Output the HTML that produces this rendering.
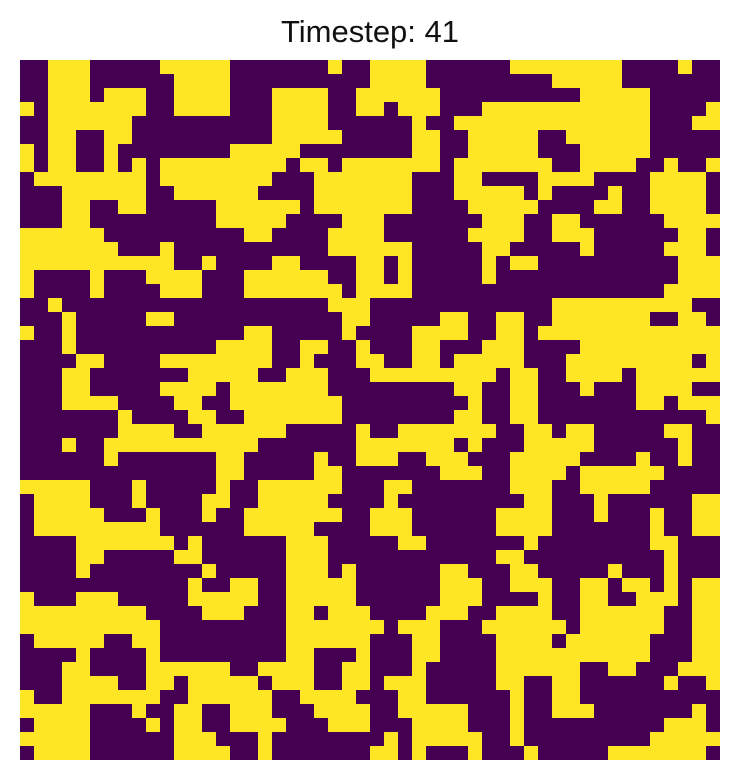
<!DOCTYPE html>
<html>
<head>
<meta charset="utf-8">
<style>
html,body{margin:0;padding:0;background:#fff;}
body{width:740px;height:780px;overflow:hidden;position:relative;font-family:"Liberation Sans","DejaVu Sans",sans-serif;}
#title{position:absolute;left:0;top:12px;width:740px;text-align:center;font-size:31px;line-height:40px;color:#111;}
#grid{position:absolute;left:20px;top:60px;}
</style>
</head>
<body>
<div id="title">Timestep: 41</div>
<svg id="grid" width="700" height="700" viewBox="0 0 700 700"></svg>
<script>
const timestep = 41;
const colorsByState = ["#440154", "#fde725"];
const q1 = [
"0011100000111110000000100","0011100000011110000000000","0011101110011110001111001","1011111110011110001111001",
"0011111100000000001111000","0011001100000000001111100","1011001000000001111100000","1011001010111111111011011",
"0111111110111111110001111","0001111110011111100001111","0001100110000011111101111","0001100000000011111000011",
"1111110000000000110000111","1111111000100000000000111","1111111111100100001100001","1000010001111000111111001",
"1000010000111000111111101","0010000000000000000000111","0001000001100000000000011","1001000000000000110000010",
"0001000000000011110011001","0000110000111111110010001","0001100000001111100111000","0001100000111101111111000",
"0001111000011001111111100"];
const q2 = [
"1111000000111111110000100","1111000000000111110000000","1111100000000001111100000","1011100011111111111100001",
"0001001111111111111100011","0001100111110011111100000","0001100111110001111100000","1111101111111001111001001",
"1110001100001111000011110","1110001111101000010011110","1110000111110000110011110","1000000011100110000001111",
"1000000111100111000000110","1110000011000001000001110","1010000010110000000000111","1010000010000000000000111",
"1110000000000000000001111","0000000000000111111111100","0000011001100111111100110","0001111001101111111111111",
"0001100011100001111111111","1001101111100011111111101","1111111110110011110111111","0000001100110001000111100",
"0000000100110000000110111"];
const q3 = [
"0000000100001100111111100","0000000111100111111000001","0001001111111111100000001","0000001000000011000001001",
"0000000000000011000001100","1111100010000010011111100","0111100010000110011111000","0111110001000100111111100",
"0111111111000000111110000","0000111111101000000111000","0000110000011000000111000","0000100000000100000111010",
"0000000000001001100111110","1000111000001111100111110","1111111110000111000110111","1111111111000000000111111",
"0111110011000000000111111","0000100001000000000110001","0001100001111110011110011","0001111001101111101110011",
"1001111111001111110011110","1111100010011001110001111","0111100001011001111000111","1111100000011100010000000",
"0111100000011110010000000"];
const q4 = [
"0000001100110000000000001","0011111110011011000001100","1111110100011111000000100","1100111000111110000100100",
"0000011100111101111110000","0110000000111001111100000","0100000000011000100000011","1110000001111000100010011",
"1110000001111000000010011","0011000000010000000011000","0000000001100000000001000","0000011000110000010001000",
"0000011100111001101101011","0000011100001001100111011","0000111001111001111110011","1011100011111101111110011",
"0001100001111011111100011","0001100001111111111100011","0001000001111110011000111","0111000001100110000001001",
"0011000000100110000000000","0011111000100111000000010","0001111000100000000001110","0101111100100000000011111",
"1101000100010000011111110"];
const rows = q1.map((r, i) => r + q2[i]).concat(q3.map((r, i) => r + q4[i]));

const svg = document.getElementById('grid');
const NS = 'http://www.w3.org/2000/svg';
const nRows = rows.length, nCols = rows[0].length;
const cw = 700 / nCols, ch = 700 / nRows;
function xPos(c){ return c * cw; }
function yPos(r){ return r * ch; }
const bg = document.createElementNS(NS, 'rect');
bg.setAttribute('x', 0); bg.setAttribute('y', 0);
bg.setAttribute('width', 700); bg.setAttribute('height', 700);
bg.setAttribute('fill', colorsByState[0]);


svg.appendChild(bg);
for (let r = 0; r < nRows; r++) {
  for (let c = 0; c < nCols; c++) {
    const s = +rows[r][c];
    const rect = document.createElementNS(NS, 'rect');
    rect.setAttribute('x', xPos(c));
    rect.setAttribute('y', yPos(r));
    rect.setAttribute('width', cw + 0.3);
    rect.setAttribute('height', ch + 0.3);
    rect.setAttribute('fill', colorsByState[s]);
    
    
    svg.appendChild(rect);
  }
}
document.getElementById('title').textContent = 'Timestep: ' + timestep;
</script>
</body>
</html>
